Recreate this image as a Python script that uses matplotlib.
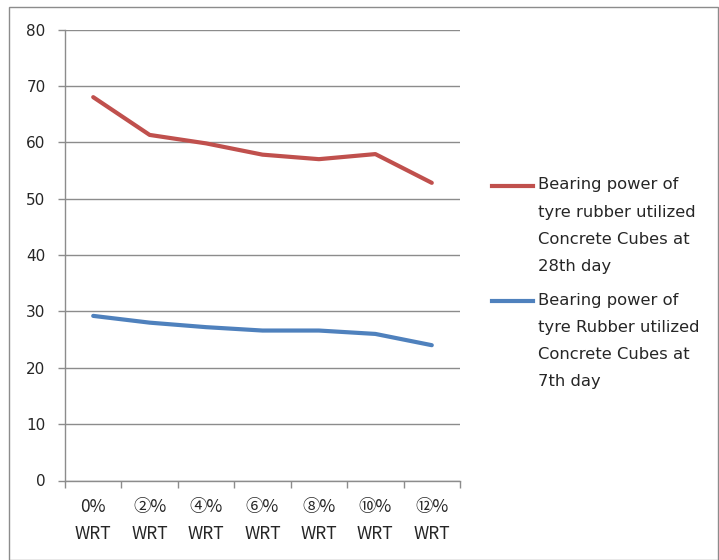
import matplotlib
matplotlib.use("Agg")
import matplotlib.pyplot as plt
from matplotlib.patches import Rectangle
from matplotlib.lines import Line2D
from matplotlib.ticker import FixedLocator

plt.rcParams['font.family'] = ['DejaVu Sans', 'Noto Sans CJK JP']

categories = ["0%\nWRT", "②%\nWRT", "④%\nWRT", "⑥%\nWRT", "⑧%\nWRT", "⑩%\nWRT", "⑫%\nWRT"]
strength_28 = [68.0, 61.3, 59.8, 57.8, 57.0, 57.9, 52.8]
strength_7 = [29.2, 28.0, 27.2, 26.6, 26.6, 26.0, 24.0]
label_28 = "Bearing power of\ntyre rubber utilized\nConcrete Cubes at\n28th day"
label_7 = "Bearing power of\ntyre Rubber utilized\nConcrete Cubes at\n7th day"
y_ticks = [0, 10, 20, 30, 40, 50, 60, 70, 80]

RED = "#c0504d"
BLUE = "#4f81bd"
TEXT = "#262626"
GRID = "#8c8c8c"

W, H = 719, 560
fig = plt.figure(figsize=(W / 100, H / 100), dpi=100)
fig.patch.set_facecolor("white")

# outer chart border
fig.add_artist(Rectangle((9 / W, 0), (W - 10) / W, (H - 7) / H, transform=fig.transFigure,
                         fill=False, edgecolor=GRID, linewidth=1.0))

ax = fig.add_axes([65 / W, 1 - 480.5 / H, 395 / W, 451 / H])
x = list(range(len(categories)))
ax.plot(x, strength_28, color=RED, linewidth=3.0, solid_capstyle="round")
ax.plot(x, strength_7, color=BLUE, linewidth=3.0, solid_capstyle="round")

ax.set_xlim(-0.5, len(categories) - 0.5)
ax.set_ylim(0, 80)
ax.set_yticks(y_ticks)
ax.yaxis.grid(True, color=GRID, linewidth=1.0)
ax.set_axisbelow(True)

ax.set_xticks(x)
ax.set_xticklabels(categories, fontsize=12.5, color=TEXT, linespacing=1.65,
                   family=['Noto Sans CJK JP', 'DejaVu Sans'])
ax.xaxis.set_minor_locator(FixedLocator([i - 0.5 for i in range(len(categories) + 1)]))
ax.tick_params(axis="x", which="major", length=0, pad=12.5)
ax.tick_params(axis="x", which="minor", length=5, color=GRID, width=1.0)
ax.tick_params(axis="y", length=5, color=GRID, width=1.0, labelsize=11,
               labelcolor=TEXT, pad=9)

for side in ("top", "right"):
    ax.spines[side].set_visible(False)
for side in ("left", "bottom"):
    ax.spines[side].set_color(GRID)
    ax.spines[side].set_linewidth(1.0)

# legend: key line beside the first line of each wrapped label
entries = [(label_28, RED, 185), (label_7, BLUE, 300)]
line_step = 27.3
for label, color, y0 in entries:
    fig.add_artist(Line2D([492 / W, 533 / W], [1 - (y0 + 1) / H] * 2, transform=fig.transFigure,
                          color=color, linewidth=3.0))
    for i, line in enumerate(label.split("\n")):
        fig.text(538 / W, 1 - (y0 + i * line_step) / H, line, fontsize=11.8, color=TEXT,
                 ha="left", va="center")

fig.savefig("out.png", dpi=100)
